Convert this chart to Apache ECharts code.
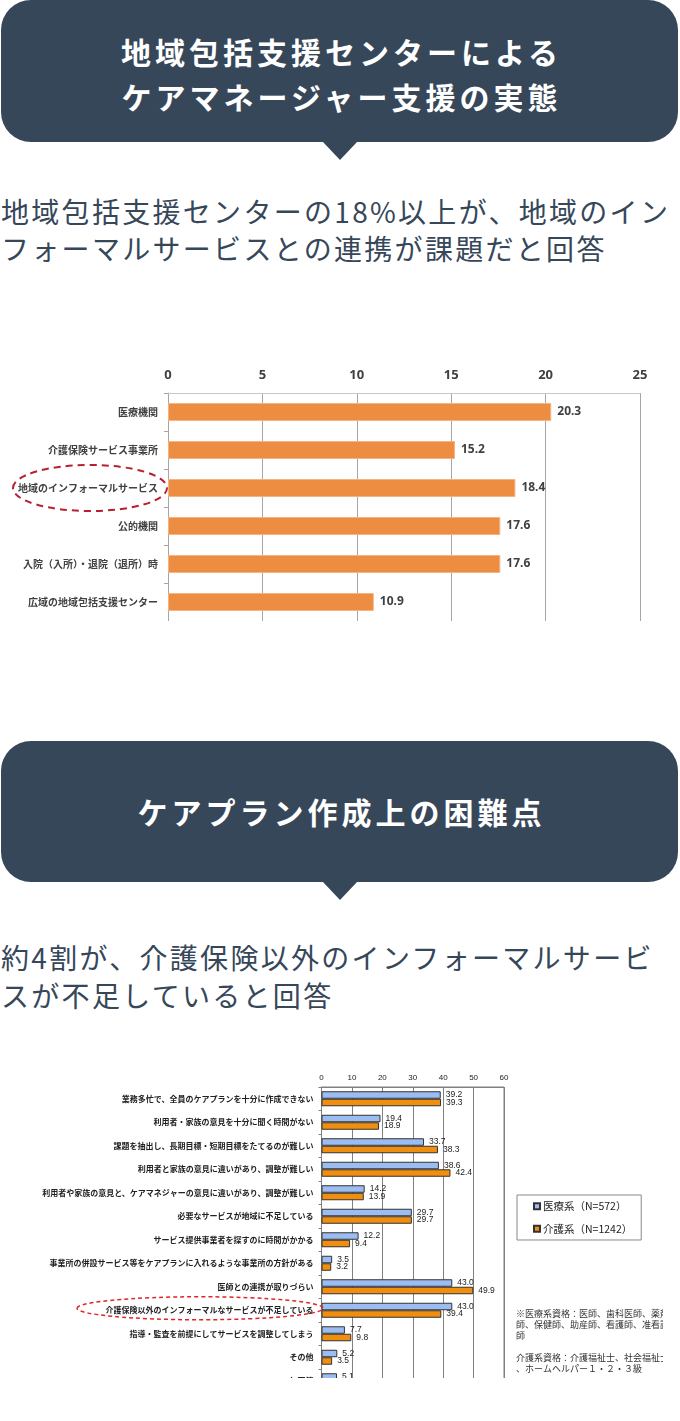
<!DOCTYPE html>
<html><head><meta charset="utf-8">
<script src="https://cdn.jsdelivr.net/npm/echarts@6/dist/echarts.min.js"></script>
<style>
html,body{margin:0;padding:0;background:#fff;width:680px;height:1421px;overflow:hidden;font-family:"Noto Sans CJK JP","Noto Sans",sans-serif;}
.box{position:absolute;left:1px;width:677px;background:#36475a;border-radius:30px;}
.box:after{content:'';position:absolute;left:50%;margin-left:-17px;bottom:-18px;border-left:17px solid transparent;border-right:17px solid transparent;border-top:18px solid #36475a;}
.ttl{position:absolute;left:0;right:0;text-align:center;color:#fff;font-weight:700;font-size:30px;letter-spacing:4px;padding-left:4px;white-space:nowrap;}
.sub{position:absolute;left:1px;color:#36475a;font-size:28px;letter-spacing:2.3px;white-space:nowrap;}
#c1{position:absolute;left:0;top:355px;width:680px;height:266px;}
#c2wrap{position:absolute;left:0;top:1060px;width:663px;height:318px;overflow:hidden;}
#c2{width:663px;height:340px;}
</style>
</head>
<body>
<div class="box" style="top:0;height:142px;">
  <div class="ttl" style="top:29px;line-height:45px;">地域包括支援センターによる<br>ケアマネージャー支援の実態</div>
</div>
<div class="sub" style="top:193px;line-height:37px;">地域包括支援センターの18%以上が、地域のイン<br>フォーマルサービスとの連携が課題だと回答</div>
<div id="c1"></div>

<div class="box" style="top:741px;height:141px;">
  <div class="ttl" style="top:0;line-height:141px;">ケアプラン作成上の困難点</div>
</div>
<div class="sub" style="top:938px;line-height:38px;">約4割が、介護保険以外のインフォーマルサービ<br>スが不足していると回答</div>
<div id="c2wrap"><div id="c2"></div></div>

<script>
// ---- Chart 1 data ----
const cats1 = ['医療機関','介護保険サービス事業所','地域のインフォーマルサービス','公的機関','入院（入所）・退院（退所）時','広域の地域包括支援センター'];
const vals1 = [20.3, 15.2, 18.4, 17.6, 17.6, 10.9];
const highlight1 = '地域のインフォーマルサービス';

// ---- Chart 2 data ----
const cats2 = [
  '業務多忙で、全員のケアプランを十分に作成できない',
  '利用者・家族の意見を十分に聞く時間がない',
  '課題を抽出し、長期目標・短期目標をたてるのが難しい',
  '利用者と家族の意見に違いがあり、調整が難しい',
  '利用者や家族の意見と、ケアマネジャーの意見に違いがあり、調整が難しい',
  '必要なサービスが地域に不足している',
  'サービス提供事業者を探すのに時間がかかる',
  '事業所の併設サービス等をケアプランに入れるような事業所の方針がある',
  '医師との連携が取りづらい',
  '介護保険以外のインフォーマルなサービスが不足している',
  '指導・監査を前提にしてサービスを調整してしまう',
  'その他',
  '無回答'
];
const iryo = [39.2, 19.4, 33.7, 38.6, 14.2, 29.7, 12.2, 3.5, 43.0, 43.0, 7.7, 5.2, 5.1];
const kaigo = [39.3, 18.9, 38.3, 42.4, 13.9, 29.7, 9.4, 3.2, 49.9, 39.4, 9.8, 3.5, null];
const seriesNames2 = ['医療系（N=572）', '介護系（N=1242）'];
const highlight2 = '介護保険以外のインフォーマルなサービスが不足している';
const notes2 = ['※医療系資格：医師、歯科医師、薬剤', '師、保健師、助産師、看護師、准看護', '師', '', '介護系資格：介護福祉士、社会福祉士', '、ホームヘルパー１・２・３級'];

// ---- Chart 1 ----
const c1 = echarts.init(document.getElementById('c1'), null, {renderer: 'canvas'});
c1.setOption({
  animation: false,
  grid: {left: 168, right: 40, top: 38, bottom: 0, containLabel: false},
  xAxis: {
    type: 'value', position: 'top', min: 0, max: 25, interval: 5,
    axisLine: {show: true, lineStyle: {color: '#c8c8c8'}},
    axisTick: {show: false},
    axisLabel: {margin: 11, fontSize: 13, fontWeight: 'bold', color: '#404040', fontFamily: 'Noto Sans'},
    splitLine: {show: true, lineStyle: {color: '#a6a6a6', width: 1}}
  },
  yAxis: {
    type: 'category', data: cats1, inverse: true,
    axisLine: {show: true, lineStyle: {color: '#a6a6a6'}},
    axisTick: {show: true, length: 4, lineStyle: {color: '#a6a6a6'}},
    axisLabel: {margin: 10, fontSize: 10, fontWeight: 'bold', color: '#404040', fontFamily: 'Noto Sans CJK JP'}
  },
  series: [{
    type: 'bar', data: vals1, barWidth: 18,
    itemStyle: {color: '#ED8D42', borderColor: '#F6B283', borderWidth: 1},
    label: {show: true, position: 'right', distance: 6, fontSize: 12, fontWeight: 'bold', color: '#404040', fontFamily: 'Noto Sans',
      formatter: p => p.value.toFixed(1)}
  }]
});
{
  const cy = c1.convertToPixel({yAxisIndex: 0}, highlight1);
  const x0 = c1.convertToPixel({xAxisIndex: 0}, 0);
  c1.setOption({graphic: [{
    type: 'ellipse', z: 100, silent: true,
    shape: {cx: x0 - 78, cy: cy, rx: 77, ry: 23},
    style: {fill: 'none', stroke: '#B8202F', lineWidth: 2, lineDash: [7, 5]}
  }]});
}

// ---- Chart 2 ----
const c2 = echarts.init(document.getElementById('c2'), null, {renderer: 'canvas'});
const lbl2 = {show: true, position: 'right', distance: 5, fontSize: 8.5, color: '#222', fontFamily: 'Liberation Sans',
  formatter: p => (p.value == null ? '' : Number(p.value).toFixed(1))};
c2.setOption({
  animation: false,
  grid: {left: 321.5, right: 159, top: 27, bottom: 7.5, show: true, borderColor: '#808080', borderWidth: 1, backgroundColor: 'transparent'},
  legend: {
    data: seriesNames2, orient: 'vertical', left: 517, top: 135,
    borderColor: '#888', borderWidth: 1, padding: [6, 9, 6, 16],
    icon: 'rect', itemWidth: 6, itemHeight: 6, itemGap: 12,
    textStyle: {fontSize: 10.5, color: '#222', fontFamily: 'Noto Sans CJK JP', padding: [0, 0, 0, -2]}
  },
  xAxis: {
    type: 'value', position: 'top', min: 0, max: 60, interval: 10,
    axisLine: {show: true, lineStyle: {color: '#808080'}},
    axisTick: {show: false},
    axisLabel: {margin: 5, fontSize: 8, color: '#222', fontFamily: 'Liberation Sans'},
    splitLine: {show: true, lineStyle: {color: '#808080', width: 1}}
  },
  yAxis: {
    type: 'category', data: cats2, inverse: true,
    axisLine: {show: true, lineStyle: {color: '#808080'}},
    axisTick: {show: true, length: 3, lineStyle: {color: '#808080'}},
    axisLabel: {margin: 8, fontSize: 8, fontWeight: 'bold', color: '#222', fontFamily: 'Noto Sans CJK JP'}
  },
  series: [
    {name: seriesNames2[0], type: 'bar', data: iryo, barWidth: 7.5, barGap: '0%',
      itemStyle: {color: '#9BBDF2', borderColor: '#333', borderWidth: 1}, label: lbl2},
    {name: seriesNames2[1], type: 'bar', data: kaigo, barWidth: 7.5, barGap: '0%',
      itemStyle: {color: '#EF8E0F', borderColor: '#333', borderWidth: 1}, label: lbl2}
  ]
});
{
  const cy = c2.convertToPixel({yAxisIndex: 0}, highlight2);
  const x0 = c2.convertToPixel({xAxisIndex: 0}, 0);
  c2.setOption({graphic: [
    {type: 'ellipse', z: 100, silent: true,
      shape: {cx: x0 - 121.5, cy: cy - 2, rx: 123, ry: 11.5},
      style: {fill: 'none', stroke: '#E0242C', lineWidth: 1.5, lineDash: [4, 3]}},
    {type: 'text', left: 516, top: 248.5, silent: true,
      style: {text: notes2.join('\n'), fontSize: 9, lineHeight: 11, fill: '#333', fontFamily: 'Noto Sans CJK JP'}}
  ]});
}
</script>
</body></html>
